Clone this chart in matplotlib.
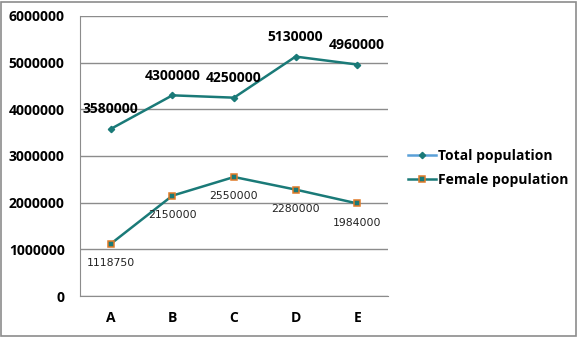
import matplotlib
matplotlib.use("Agg")
import matplotlib.pyplot as plt
from matplotlib.patches import Rectangle
from matplotlib.lines import Line2D

categories = ["A", "B", "C", "D", "E"]
total_population = [3580000, 4300000, 4250000, 5130000, 4960000]
female_population = [1118750, 2150000, 2550000, 2280000, 1984000]
y_ticks = [0, 1000000, 2000000, 3000000, 4000000, 5000000, 6000000]

W, H = 578, 337
fig = plt.figure(figsize=(W / 100, H / 100), dpi=100)
plt.rcParams['font.family'] = ['Open Sans', 'DejaVu Sans']

# outer chart border
fig.patches.append(Rectangle((1 / W, 1 / H), (W - 3) / W, (H - 3) / H,
                             transform=fig.transFigure, fill=False,
                             edgecolor="#8c8c8c", linewidth=1.2))

left, right, top, bottom = 80, 388, 16, 296
ax = fig.add_axes([left / W, 1 - bottom / H, (right - left) / W, (bottom - top) / H])

x = list(range(len(categories)))
teal = "#1a7a78"

ax.plot(x, total_population, color=teal, linewidth=1.8, marker="D",
        markersize=3.2, markerfacecolor=teal, markeredgecolor=teal, zorder=3)
ax.plot(x, female_population, color=teal, linewidth=1.8, marker="s",
        markersize=4.8, markerfacecolor=teal, markeredgecolor="#e07b28",
        markeredgewidth=1.1, zorder=3)

for xi, v in zip(x, total_population):
    ax.annotate(str(v), (xi, v), xytext=(0, 14), textcoords="offset points",
                ha="center", va="center", fontsize=10, fontweight="bold",
                color="black")
for xi, v in zip(x, female_population):
    ax.annotate(str(v), (xi, v), xytext=(0, -14), textcoords="offset points",
                ha="center", va="center", fontsize=7.8, color="#222222",
                family="DejaVu Sans")

ax.set_xlim(-0.5, len(categories) - 0.5)
ax.set_ylim(0, 6000000)
ax.set_yticks(y_ticks)
ax.set_yticklabels([str(t) for t in y_ticks], fontsize=10, fontweight="bold")
ax.set_xticks(x)
ax.set_xticklabels(categories, fontsize=10, fontweight="bold")
ax.tick_params(axis="both", length=0)
ax.tick_params(axis="y", pad=11)
ax.tick_params(axis="x", pad=11)
ax.grid(axis="y", color="#8c8c8c", linewidth=1)
ax.set_axisbelow(True)
for side in ["top", "right"]:
    ax.spines[side].set_visible(False)
for side in ["left", "bottom"]:
    ax.spines[side].set_color("#8c8c8c")

# legend
handles = [
    Line2D([], [], color="#5aa0d8", linewidth=1.8, marker="D", markersize=3.2,
           markerfacecolor=teal, markeredgecolor=teal),
    Line2D([], [], color=teal, linewidth=1.8, marker="s", markersize=4.8,
           markerfacecolor=teal, markeredgecolor="#e07b28", markeredgewidth=1.1),
]
fig.legend(handles, ["Total population", "Female population"],
           loc="center left", bbox_to_anchor=(396 / W, 1 - 168 / H),
           frameon=False, prop={"size": 10, "weight": "bold"},
           handlelength=2.0, handletextpad=0.1, labelspacing=0.75)

fig.savefig("out.png", dpi=100)
